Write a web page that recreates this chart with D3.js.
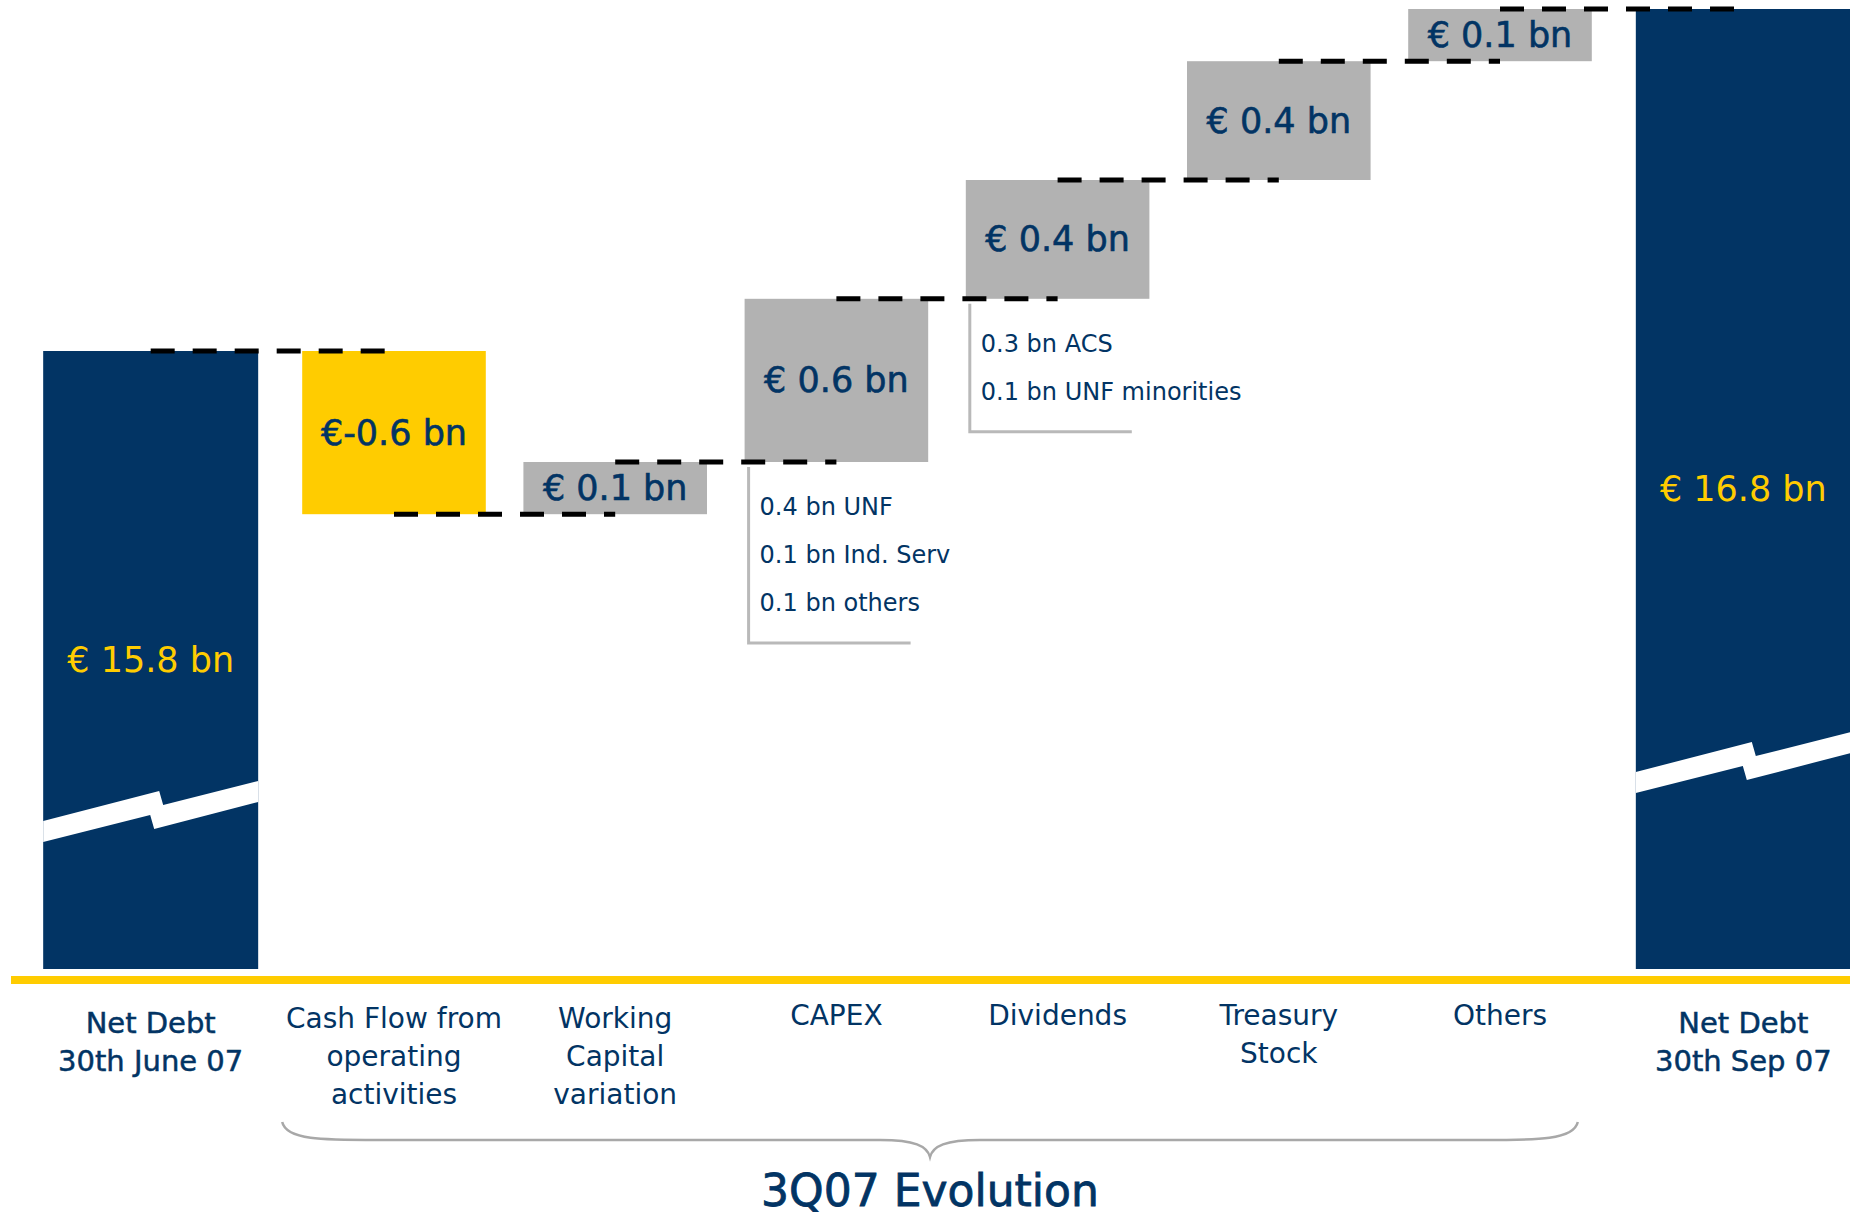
<!DOCTYPE html>
<html><head><meta charset="utf-8">
<script src="https://cdn.jsdelivr.net/npm/d3@7"></script>
<style>html,body{margin:0;padding:0;background:#fff;overflow:hidden;} svg{display:block;}</style>
</head><body>
<svg id="chart" width="1850" height="1215"></svg>
<script>
// ---------------- data ----------------
const categories = [
  ["Net Debt", "30th June 07"],
  ["Cash Flow from", "operating", "activities"],
  ["Working", "Capital", "variation"],
  ["CAPEX"],
  ["Dividends"],
  ["Treasury", "Stock"],
  ["Others"],
  ["Net Debt", "30th Sep 07"]
];
const barTypes = ["total", "step", "step", "step", "step", "step", "step", "total"];
const values = [15.8, -0.6, 0.1, 0.6, 0.4, 0.4, 0.1, 16.8];
const valueLabels = ["€ 15.8 bn", "€-0.6 bn", "€ 0.1 bn", "€ 0.6 bn", "€ 0.4 bn", "€ 0.4 bn", "€ 0.1 bn", "€ 16.8 bn"];
const capexBreakdown = ["0.4 bn UNF", "0.1 bn Ind. Serv", "0.1 bn others"];
const dividendsBreakdown = ["0.3 bn ACS", "0.1 bn UNF minorities"];
const groupTitle = "3Q07 Evolution";

// ---------------- style ----------------
const NAVY = "#023464", YELLOW = "#FFCC00", GREY = "#B2B2B2", LINEGREY = "#B9B9B9";
const FONT = "DejaVu Sans, Verdana, sans-serif";
const baseY = 969, topY = 9;
const breakOffsets = [158, 207];      // distance of the axis-break mark above the baseline

const svg = d3.select("#chart");
const n = values.length;
const stepIdx = d3.range(n).filter(i => barTypes[i] === "step");

// x positions: step categories on a point scale, the two totals set apart
const xs = d3.scalePoint().domain(stepIdx).range([394, 1500]);
const step = xs.step();
const totalGap = step * 1.1;
const x = i => barTypes[i] === "step" ? xs(i)
  : (i < stepIdx[0] ? xs(stepIdx[0]) - totalGap : xs(stepIdx[stepIdx.length - 1]) + totalGap);
const totalW = 215, stepW = step * 0.83;
// step heights: schematic (non proportional) scale, as in the original slide
const stepH = d3.scaleLinear().domain([0, 1]).range([30, 252]);

// ---------------- layout of the waterfall ----------------
let shift = 0;
for (let i = 0; i < n; i++) if (barTypes[i] === "step") shift += Math.sign(values[i]) * stepH(Math.abs(values[i]));
let level = topY + shift;
const bars = [];
let totalCount = 0;
for (let i = 0; i < n; i++) {
  if (barTypes[i] === "total") {
    bars.push({i, type: "total", top: level, bottom: baseY, after: level, w: totalW, brk: breakOffsets[totalCount++]});
  } else {
    const v = values[i];
    const nl = level - Math.sign(v) * stepH(Math.abs(v));
    bars.push({i, type: v < 0 ? "dec" : "inc", top: Math.min(level, nl), bottom: Math.max(level, nl), after: nl, w: stepW});
    level = nl;
  }
}

// axis line
svg.append("rect").attr("x", 11).attr("y", baseY + 7).attr("width", 1850 - 11).attr("height", 8).attr("fill", YELLOW);

// bars
svg.selectAll("rect.bar").data(bars).enter().append("rect")
  .attr("class", "bar")
  .attr("x", d => x(d.i) - d.w / 2)
  .attr("y", d => d.top)
  .attr("width", d => d.w)
  .attr("height", d => d.bottom - d.top)
  .attr("fill", d => d.type === "total" ? NAVY : d.type === "dec" ? YELLOW : GREY);

// axis-break marks on the total bars
const brkShape = [[0, 10], [116, -20], [120, -6], [215, -30], [215, -9], [111, 18], [107, 4], [0, 31]];
bars.filter(d => d.type === "total").forEach(d => {
  const x0 = x(d.i) - d.w / 2, yc = baseY - d.brk, k = d.w / 215;
  svg.append("polygon")
    .attr("points", brkShape.map(p => [x0 + p[0] * k, yc + p[1]].join(",")).join(" "))
    .attr("fill", "#fff");
});

// connectors
for (let j = 0; j < n - 1; j++) {
  const yv = bars[j].after;
  svg.append("line")
    .attr("x1", x(j)).attr("x2", x(j + 1))
    .attr("y1", yv).attr("y2", yv)
    .attr("stroke", "#000").attr("stroke-width", 5)
    .attr("stroke-dasharray", "24 18");
}

// value labels
svg.selectAll("text.val").data(bars).enter().append("text")
  .attr("class", "val")
  .attr("x", d => x(d.i))
  .attr("y", d => (d.top + d.bottom) / 2)
  .attr("text-anchor", "middle")
  .attr("dominant-baseline", "central")
  .attr("font-family", FONT)
  .attr("font-size", 35)
  .attr("fill", d => d.type === "total" ? YELLOW : NAVY)
  .attr("stroke", d => d.type === "total" ? "none" : NAVY)
  .attr("stroke-width", 0.6)
  .text(d => valueLabels[d.i]);

// breakdown annotations
function breakdown(idx, lines) {
  const b = bars[idx];
  const lx = x(idx) - b.w / 2 + 4;
  const y0 = b.bottom + 5;
  const firstY = b.bottom + 45, gap = 48;
  const yEnd = firstY + gap * (lines.length - 1) + 40;
  svg.append("path")
    .attr("d", `M${lx},${y0} L${lx},${yEnd} L${lx + 162},${yEnd}`)
    .attr("fill", "none").attr("stroke", LINEGREY).attr("stroke-width", 3);
  svg.selectAll(null).data(lines).enter().append("text")
    .attr("x", lx + 11)
    .attr("y", (d, k) => firstY + gap * k)
    .attr("dominant-baseline", "central")
    .attr("font-family", FONT).attr("font-size", 24)
    .attr("fill", NAVY)
    .text(d => d);
}
breakdown(3, capexBreakdown);
breakdown(4, dividendsBreakdown);

// category labels
categories.forEach((lines, i) => {
  const isTotal = barTypes[i] === "total";
  const t = svg.append("text")
    .attr("x", x(i)).attr("y", isTotal ? 1033 : (lines.length === 3 ? 1028 : 1025))
    .attr("text-anchor", "middle")
    .attr("font-family", FONT)
    .attr("font-size", isTotal ? 29 : 28)
    .attr("fill", NAVY)
    .attr("stroke", isTotal ? NAVY : "none")
    .attr("stroke-width", 0.5);
  lines.forEach((l, k) => t.append("tspan").attr("x", x(i)).attr("dy", k === 0 ? 0 : 38).text(l));
});

// brace under the step categories
const bl = x(stepIdx[0]) - stepW / 2 - 20, br = x(stepIdx[stepIdx.length - 1]) + stepW / 2 - 14, bm = (bl + br) / 2;
const bTop = 1122, bFlat = 1140, bTip = 1157;
svg.append("path")
  .attr("d", `M${bl},${bTop} C${bl + 4},${bFlat} ${bl + 40},${bFlat} ${bl + 95},${bFlat} L${bm - 50},${bFlat} C${bm - 15},${bFlat} ${bm - 3},${bFlat + 6} ${bm},${bTip} C${bm + 3},${bFlat + 6} ${bm + 15},${bFlat} ${bm + 50},${bFlat} L${br - 95},${bFlat} C${br - 40},${bFlat} ${br - 4},${bFlat} ${br},${bTop}`)
  .attr("fill", "none").attr("stroke", "#A8A8A8").attr("stroke-width", 2.5);

svg.append("text")
  .attr("x", bm).attr("y", 1206)
  .attr("text-anchor", "middle")
  .attr("font-family", FONT).attr("font-size", 44)
  .attr("fill", NAVY).attr("stroke", NAVY).attr("stroke-width", 0.8)
  .text(groupTitle);
</script>
</body></html>
